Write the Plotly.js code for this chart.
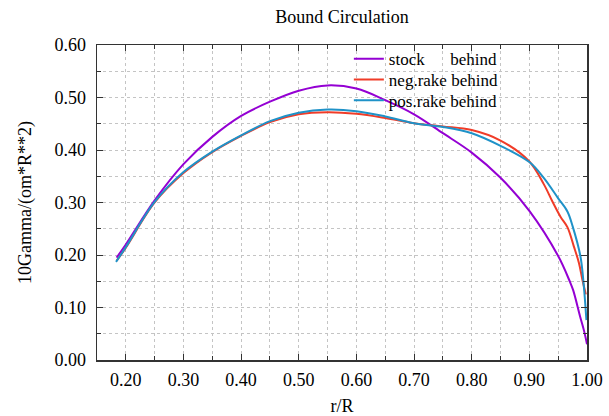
<!DOCTYPE html>
<html>
<head>
<meta charset="utf-8">
<script src="https://cdn.plot.ly/plotly-3.0.1.min.js"></script>
<style>
html,body{margin:0;padding:0;background:#fff;}
#chart{width:609px;height:416px;}
</style>
</head>
<body>
<div id="chart"></div>
<script>
// r/R stations and 10Gamma/(om*R**2) values
var rStock = [0.184, 0.20, 0.25, 0.30, 0.35, 0.40, 0.45, 0.50, 0.55, 0.60, 0.65, 0.70, 0.75, 0.80, 0.85, 0.90, 0.95, 0.97, 0.976, 0.988, 0.995, 1.0];
var gStock = [0.195, 0.220, 0.304, 0.373, 0.425, 0.465, 0.492, 0.513, 0.523, 0.517, 0.495, 0.468, 0.432, 0.395, 0.347, 0.284, 0.198, 0.150, 0.133, 0.083, 0.055, 0.030];

var rNeg = [0.184, 0.20, 0.25, 0.30, 0.35, 0.40, 0.45, 0.50, 0.55, 0.60, 0.65, 0.70, 0.75, 0.80, 0.85, 0.90, 0.925, 0.94, 0.954, 0.966, 0.977, 0.986, 0.992, 0.998];
var gNeg = [0.189, 0.214, 0.300, 0.356, 0.396, 0.427, 0.453, 0.468, 0.472, 0.469, 0.461, 0.451, 0.445, 0.438, 0.418, 0.378, 0.335, 0.302, 0.273, 0.253, 0.217, 0.185, 0.153, 0.125];

var rPos = [0.183, 0.20, 0.25, 0.30, 0.35, 0.40, 0.45, 0.50, 0.55, 0.60, 0.65, 0.70, 0.75, 0.80, 0.85, 0.90, 0.925, 0.95, 0.966, 0.975, 0.9885, 0.994, 0.999];
var gPos = [0.187, 0.215, 0.301, 0.358, 0.397, 0.428, 0.455, 0.471, 0.477, 0.474, 0.464, 0.451, 0.444, 0.432, 0.408, 0.377, 0.347, 0.308, 0.283, 0.255, 0.198, 0.147, 0.076];

var seriesNames = ['stock\u00A0\u00A0\u00A0\u00A0\u00A0\u00A0behind', 'neg.rake behind', 'pos.rake behind'];
var seriesColors = ['#9400d3', '#f03c28', '#1f92c8'];

var xTicks = [0.20, 0.30, 0.40, 0.50, 0.60, 0.70, 0.80, 0.90, 1.00];
var xTickText = ['0.20', '0.30', '0.40', '0.50', '0.60', '0.70', '0.80', '0.90', '1.00'];
var yTicks = [0.00, 0.10, 0.20, 0.30, 0.40, 0.50, 0.60];
var yTickText = ['0.00', '0.10', '0.20', '0.30', '0.40', '0.50', '0.60'];

var legendIds = ['legend', 'legend2', 'legend3'];
var xs = [rStock, rNeg, rPos];
var ys = [gStock, gNeg, gPos];
var traces = xs.map(function (x, i) {
  return {
    x: x, y: ys[i], type: 'scatter', mode: 'lines', name: seriesNames[i],
    legend: legendIds[i],
    line: {color: seriesColors[i], width: 2, shape: 'spline', smoothing: 1}
  };
});

var fam = '"Liberation Serif", "Times New Roman", serif';
var font = {family: fam, size: 18, color: '#000'};
var legFont = {family: fam, size: 17, color: '#000'};

var axisCommon = {
  showline: true, linecolor: '#333', linewidth: 1.5, mirror: 'ticks',
  ticks: 'inside', ticklen: 6, tickcolor: '#333', tickwidth: 1,
  showgrid: true, gridcolor: '#c4c4c4', griddash: 'dot', gridwidth: 1,
  zeroline: false, tickfont: font
};
var minorCommon = {dtick: 0.05, ticks: 'inside', ticklen: 4, tickcolor: '#333', showgrid: true, gridcolor: '#c4c4c4', griddash: 'dot'};

function legendAt(yPos) {
  return {x: 0.514, y: yPos, xanchor: 'left', yanchor: 'middle', bgcolor: 'rgba(0,0,0,0)',
          borderwidth: 0, font: legFont, itemwidth: 30};
}

var layout = {
  width: 609, height: 416,
  margin: {l: 97, r: 22, t: 45, b: 56},
  paper_bgcolor: '#fff', plot_bgcolor: '#fff',
  font: font,
  title: {text: 'Bound Circulation', font: {family: fam, size: 18, color: '#000'}, x: 0.5615, xanchor: 'center', y: 0.975, yanchor: 'top'},
  showlegend: true,
  legend: legendAt(0.955),
  legend2: legendAt(0.889),
  legend3: legendAt(0.823),
  xaxis: Object.assign({}, axisCommon, {
    range: [0.15, 1.0], tickvals: xTicks, ticktext: xTickText, ticklabelstandoff: 3,
    minor: minorCommon,
    title: {text: 'r/R', font: font, standoff: 10}
  }),
  yaxis: Object.assign({}, axisCommon, {
    range: [0, 0.6], tickvals: yTicks, ticktext: yTickText, ticklabelstandoff: 6,
    minor: minorCommon,
    title: {text: '10Gamma/(om*R**2)', font: font, standoff: 18}
  })
};

Plotly.newPlot('chart', traces, layout, {displayModeBar: false, staticPlot: true});
</script>
</body>
</html>
